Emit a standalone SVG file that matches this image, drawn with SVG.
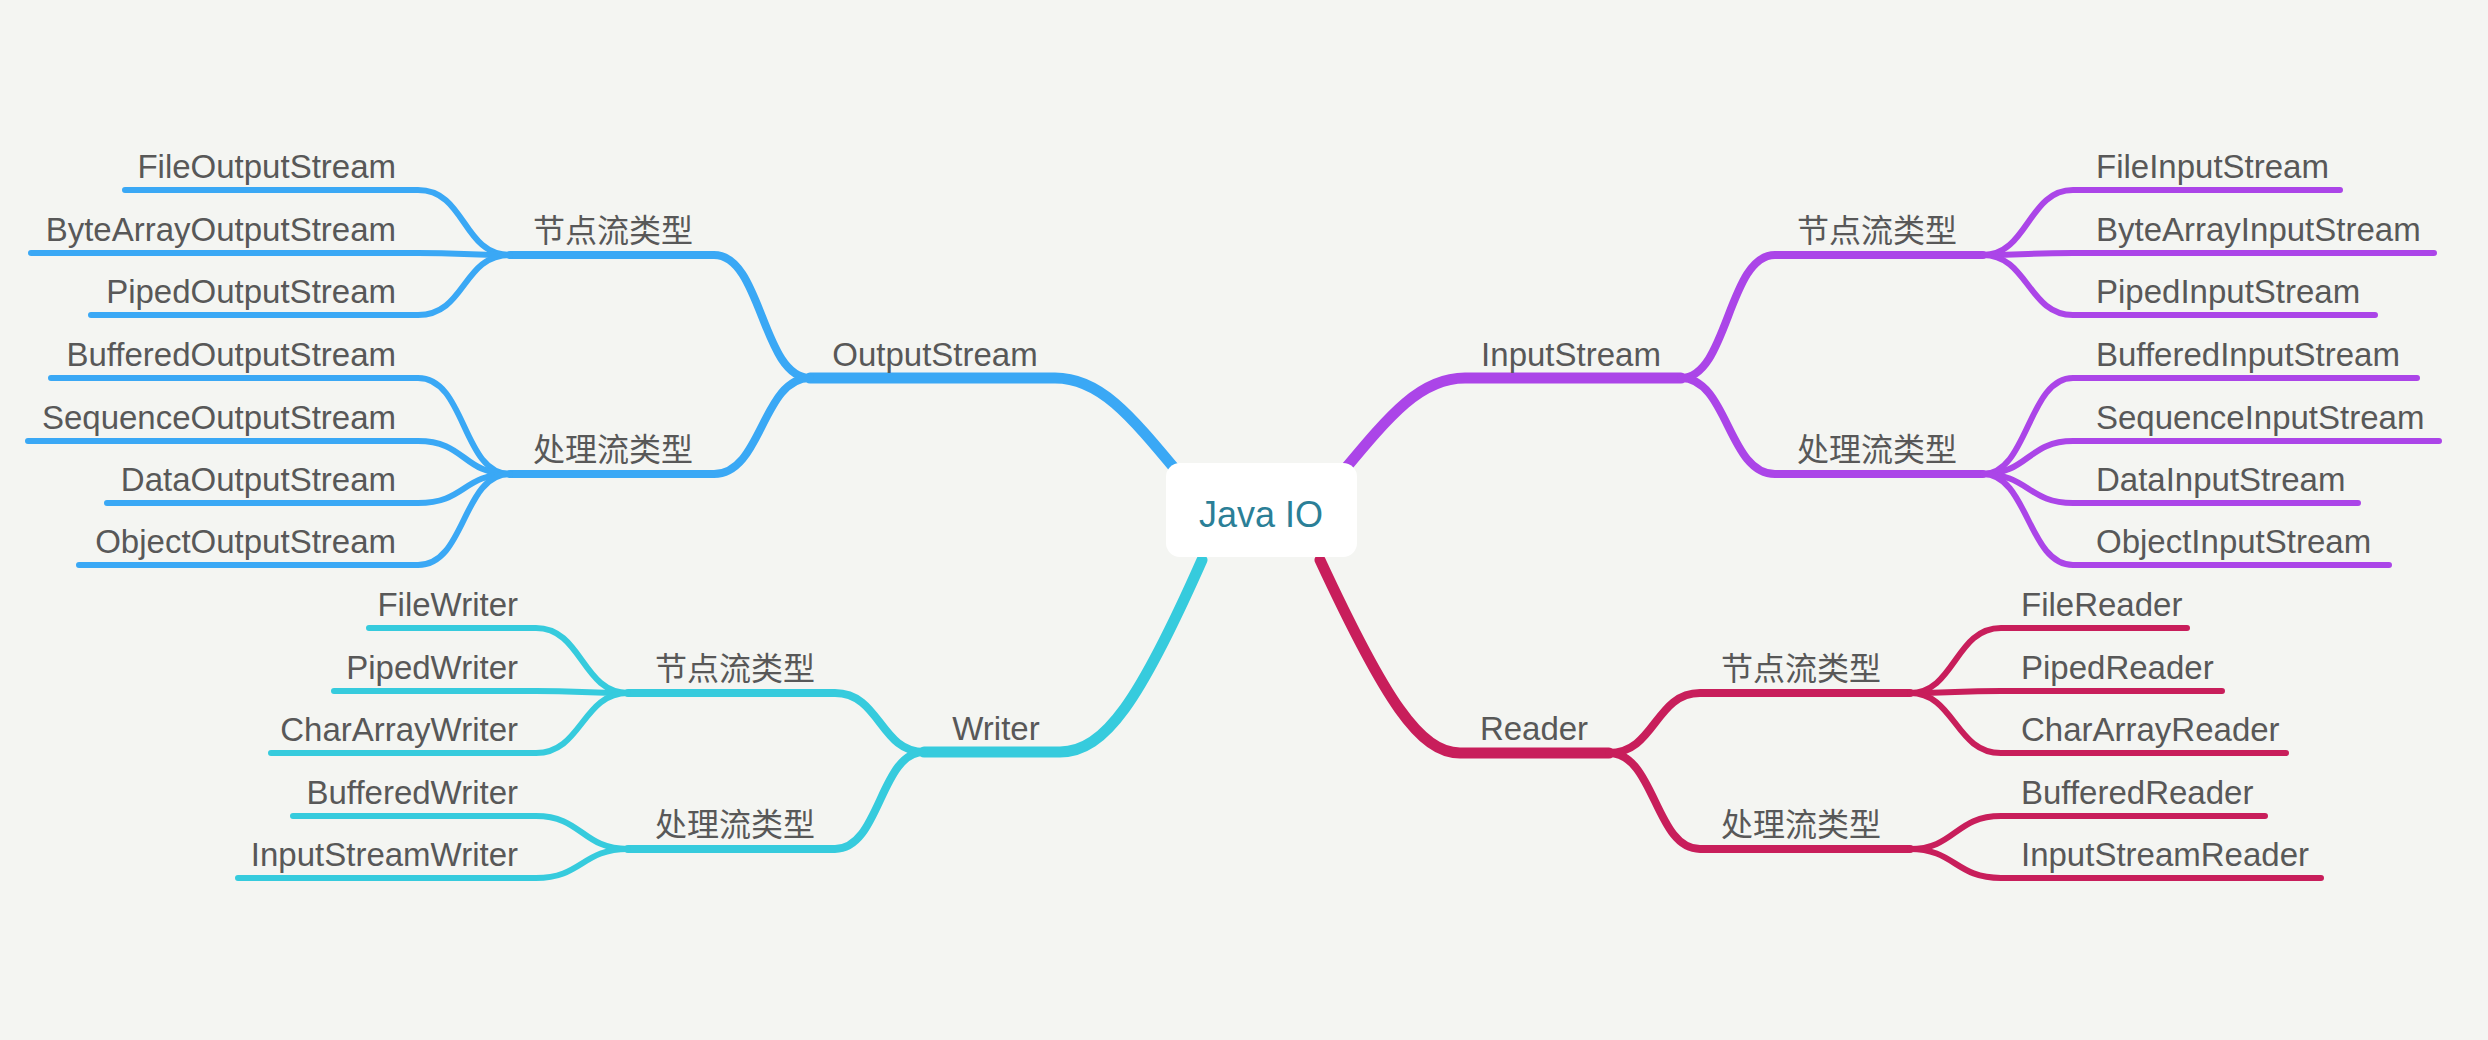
<svg xmlns="http://www.w3.org/2000/svg" width="2488" height="1040" viewBox="0 0 2488 1040">
<style>
.t{font-family:"Liberation Sans","Noto Sans CJK SC",sans-serif;font-size:33px;fill:#585858}
.z{font-family:"Noto Sans CJK SC",sans-serif;font-size:32px;fill:#585858}
.e{text-anchor:end}
.m{text-anchor:middle}
.c{fill:none;stroke-linecap:round;stroke-linejoin:round}
.lf{stroke-width:6}
.sb{stroke-width:8}
.mn{stroke-width:11}
.blue{stroke:#3aa8f5}
.purple{stroke:#ab45e8}
.cyan{stroke:#36cbdd}
.red{stroke:#c81e5b}
</style>
<rect width="2488" height="1040" fill="#f4f5f2"/>
<g id="connectors" class="c">
<path class="blue mn" d="M810,378 L1055,378 C1100,378 1130,415 1180,475"/>
<path class="blue sb" d="M510,255 L714,255 C762,255 762,378 810,378"/>
<path class="blue sb" d="M510,474 L714,474 C762,474 762,378 810,378"/>
<path class="blue lf" d="M125,190 L418,190 C466,190 462,255 510,255"/>
<path class="blue lf" d="M31,253 L418,253 C466,253 462,255 510,255"/>
<path class="blue lf" d="M91,315 L418,315 C466,315 462,255 510,255"/>
<path class="blue lf" d="M51,378 L418,378 C466,378 462,474 510,474"/>
<path class="blue lf" d="M28,441 L418,441 C466,441 462,474 510,474"/>
<path class="blue lf" d="M107,503 L418,503 C466,503 462,474 510,474"/>
<path class="blue lf" d="M79,565 L418,565 C466,565 462,474 510,474"/>
<path class="purple mn" d="M1340,475 C1390,415 1420,378 1465,378 L1681,378"/>
<path class="purple sb" d="M1681,378 C1728,378 1728,255 1775,255 L1983,255"/>
<path class="purple sb" d="M1681,378 C1728,378 1728,474 1775,474 L1983,474"/>
<path class="purple lf" d="M1983,255 C2028,255 2028,190 2073,190 L2340,190"/>
<path class="purple lf" d="M1983,255 C2028,255 2028,253 2073,253 L2434,253"/>
<path class="purple lf" d="M1983,255 C2028,255 2028,315 2073,315 L2375,315"/>
<path class="purple lf" d="M1983,474 C2028,474 2028,378 2073,378 L2417,378"/>
<path class="purple lf" d="M1983,474 C2028,474 2028,441 2073,441 L2439,441"/>
<path class="purple lf" d="M1983,474 C2028,474 2028,503 2073,503 L2358,503"/>
<path class="purple lf" d="M1983,474 C2028,474 2028,565 2073,565 L2389,565"/>
<path class="cyan mn" d="M1202,560 C1140,700 1105,752 1060,752 L924,752"/>
<path class="cyan sb" d="M924,752 C880,752 880,693 835,693 L628,693"/>
<path class="cyan sb" d="M924,752 C880,752 880,849 835,849 L628,849"/>
<path class="cyan lf" d="M628,693 C582,693 582,628 536,628 L369,628"/>
<path class="cyan lf" d="M628,693 C582,693 582,691 536,691 L334,691"/>
<path class="cyan lf" d="M628,693 C582,693 582,753 536,753 L271,753"/>
<path class="cyan lf" d="M628,849 C582,849 582,816 536,816 L293,816"/>
<path class="cyan lf" d="M628,849 C582,849 582,878 536,878 L238,878"/>
<path class="red mn" d="M1320,560 C1385,700 1420,753 1460,753 L1609,753"/>
<path class="red sb" d="M1609,753 C1655,753 1655,693 1700,693 L1910,693"/>
<path class="red sb" d="M1609,753 C1655,753 1655,849 1700,849 L1910,849"/>
<path class="red lf" d="M1910,693 C1955,693 1955,628 2001,628 L2187,628"/>
<path class="red lf" d="M1910,693 C1955,693 1955,691 2001,691 L2222,691"/>
<path class="red lf" d="M1910,693 C1955,693 1955,753 2001,753 L2286,753"/>
<path class="red lf" d="M1910,849 C1955,849 1955,816 2001,816 L2265,816"/>
<path class="red lf" d="M1910,849 C1955,849 1955,878 2001,878 L2321,878"/>
</g>
<g id="root">
<rect x="1166" y="463" width="191" height="94" rx="14" fill="#ffffff"/>
<text x="1261" y="527" class="m" style="font-family:'Liberation Sans',sans-serif;font-size:36px;fill:#2b7f97">Java IO</text>
</g>
<g id="outputstream"><text class="t m" x="935" y="366">OutputStream</text></g>
<g id="out-node"><text class="z m" x="613" y="242">节点流类型</text></g>
<g id="out-proc"><text class="z m" x="613" y="461">处理流类型</text></g>
<g id="out-leaves">
<g id="FileOutputStream"><text class="t e" x="396" y="178">FileOutputStream</text></g>
<g id="ByteArrayOutputStream"><text class="t e" x="396" y="241">ByteArrayOutputStream</text></g>
<g id="PipedOutputStream"><text class="t e" x="396" y="303">PipedOutputStream</text></g>
<g id="BufferedOutputStream"><text class="t e" x="396" y="366">BufferedOutputStream</text></g>
<g id="SequenceOutputStream"><text class="t e" x="396" y="429">SequenceOutputStream</text></g>
<g id="DataOutputStream"><text class="t e" x="396" y="491">DataOutputStream</text></g>
<g id="ObjectOutputStream"><text class="t e" x="396" y="553">ObjectOutputStream</text></g>
</g>
<g id="inputstream"><text class="t m" x="1571" y="366">InputStream</text></g>
<g id="in-node"><text class="z m" x="1877" y="242">节点流类型</text></g>
<g id="in-proc"><text class="z m" x="1877" y="461">处理流类型</text></g>
<g id="in-leaves">
<g id="FileInputStream"><text class="t" x="2096" y="178">FileInputStream</text></g>
<g id="ByteArrayInputStream"><text class="t" x="2096" y="241">ByteArrayInputStream</text></g>
<g id="PipedInputStream"><text class="t" x="2096" y="303">PipedInputStream</text></g>
<g id="BufferedInputStream"><text class="t" x="2096" y="366">BufferedInputStream</text></g>
<g id="SequenceInputStream"><text class="t" x="2096" y="429">SequenceInputStream</text></g>
<g id="DataInputStream"><text class="t" x="2096" y="491">DataInputStream</text></g>
<g id="ObjectInputStream"><text class="t" x="2096" y="553">ObjectInputStream</text></g>
</g>
<g id="writer"><text class="t m" x="996" y="740">Writer</text></g>
<g id="wr-node"><text class="z m" x="735" y="680">节点流类型</text></g>
<g id="wr-proc"><text class="z m" x="735" y="836">处理流类型</text></g>
<g id="wr-leaves">
<g id="FileWriter"><text class="t e" x="518" y="616">FileWriter</text></g>
<g id="PipedWriter"><text class="t e" x="518" y="679">PipedWriter</text></g>
<g id="CharArrayWriter"><text class="t e" x="518" y="741">CharArrayWriter</text></g>
<g id="BufferedWriter"><text class="t e" x="518" y="804">BufferedWriter</text></g>
<g id="InputStreamWriter"><text class="t e" x="518" y="866">InputStreamWriter</text></g>
</g>
<g id="reader"><text class="t m" x="1534" y="740">Reader</text></g>
<g id="rd-node"><text class="z m" x="1801" y="680">节点流类型</text></g>
<g id="rd-proc"><text class="z m" x="1801" y="836">处理流类型</text></g>
<g id="rd-leaves">
<g id="FileReader"><text class="t" x="2021" y="616">FileReader</text></g>
<g id="PipedReader"><text class="t" x="2021" y="679">PipedReader</text></g>
<g id="CharArrayReader"><text class="t" x="2021" y="741">CharArrayReader</text></g>
<g id="BufferedReader"><text class="t" x="2021" y="804">BufferedReader</text></g>
<g id="InputStreamReader"><text class="t" x="2021" y="866">InputStreamReader</text></g>
</g>
</svg>
